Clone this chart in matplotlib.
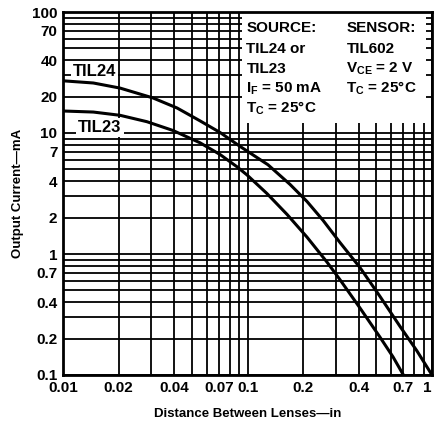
import numpy as np
import matplotlib
matplotlib.use('Agg')
from matplotlib import pyplot as plt
from matplotlib.patches import Rectangle
from matplotlib.ticker import LogLocator, NullFormatter, FixedLocator, FixedFormatter

plt.rcParams['font.family'] = ['Liberation Sans', 'DejaVu Sans']
plt.rcParams['font.weight'] = 'bold'
plt.rcParams['mathtext.fontset'] = 'custom'
plt.rcParams['mathtext.rm'] = 'Liberation Sans:bold'
plt.rcParams['mathtext.it'] = 'Liberation Sans:bold'
plt.rcParams['mathtext.bf'] = 'Liberation Sans:bold'

# curvas (distancia en pulgadas, corriente en mA)
til24_x = [0.01, 0.0146, 0.0204, 0.0307, 0.0415, 0.0553, 0.071, 0.091, 0.129,
           0.17, 0.21, 0.2565, 0.317, 0.407, 0.523, 0.671, 0.829, 1.0]
til24_y = [27.0, 25.9, 23.5, 19.5, 16.1, 12.6, 10.1, 7.76, 5.47,
           3.76, 2.72, 1.90, 1.245, 0.773, 0.445, 0.252, 0.158, 0.1]

til23_x = [0.01, 0.0146, 0.0204, 0.0285, 0.0394, 0.0553, 0.071, 0.0877, 0.0994,
           0.1275, 0.164, 0.21, 0.27, 0.317, 0.407, 0.523, 0.615, 0.70]
til23_y = [15.2, 14.9, 14.0, 12.4, 10.5, 8.3, 6.64, 5.26, 4.50,
           3.16, 2.12, 1.38, 0.855, 0.614, 0.358, 0.205, 0.141, 0.1]

xticks = [0.01, 0.02, 0.04, 0.07, 0.1, 0.2, 0.4, 0.7, 1]
xtick_labels = ['0.01', '0.02', '0.04', '0.07', '0.1', '0.2', '0.4', '0.7', '1']
yticks = [0.1, 0.2, 0.4, 0.7, 1, 2, 4, 7, 10, 20, 40, 70, 100]
ytick_labels = ['0.1', '0.2', '0.4', '0.7', '1', '2', '4', '7', '10', '20', '40', '70', '100']

source_lines = ['SOURCE:', 'TIL24 or', 'TIL23', 'I$_{F}$ = 50 mA', 'T$_{C}$ = 25°C']
sensor_lines = ['SENSOR:', 'TIL602', 'V$_{CE}$ = 2 V', 'T$_{C}$ = 25°C']

fig = plt.figure(figsize=(4.34, 4.29), dpi=100)
ax = fig.add_axes([63/434, 54/429, 369/434, 363/429])
ax.set_xscale('log')
ax.set_yscale('log')
ax.set_xlim(0.01, 1)
ax.set_ylim(0.1, 100)

ax.plot(til24_x, til24_y, color='black', lw=2.2, zorder=4, solid_joinstyle='round')
ax.plot(til23_x, til23_y, color='black', lw=2.2, zorder=4, solid_joinstyle='round')

ax.xaxis.set_major_locator(FixedLocator(xticks))
ax.xaxis.set_major_formatter(FixedFormatter(xtick_labels))
ax.yaxis.set_major_locator(FixedLocator(yticks))
ax.yaxis.set_major_formatter(FixedFormatter(ytick_labels))
ax.xaxis.set_minor_locator(LogLocator(base=10, subs=np.arange(1, 10)))
ax.yaxis.set_minor_locator(LogLocator(base=10, subs=np.arange(1, 10)))
ax.xaxis.set_minor_formatter(NullFormatter())
ax.yaxis.set_minor_formatter(NullFormatter())
ax.tick_params(which='both', length=0, labelsize=11, pad=4)
ax.set_axisbelow(True)
ax.grid(which='both', color='black', lw=1.3)
for s in ax.spines.values():
    s.set_linewidth(2)

# el "1" del final queda dentro de la figura
ax.xaxis.get_majorticklabels()[-1].set_horizontalalignment('right')

ax.set_xlabel('Distance Between Lenses\u2014in', fontsize=9.5, fontweight='bold', labelpad=10)
ax.set_ylabel('Output Current\u2014mA', fontsize=9.5, fontweight='bold', labelpad=6)

# recuadro blanco con las condiciones
ax.add_patch(Rectangle((0.485, 0.694), 0.5, 0.306, transform=ax.transAxes,
                       facecolor='white', edgecolor='none', zorder=2))
ys = [0.956, 0.898, 0.844, 0.789, 0.734]
for t, y in zip(source_lines, ys):
    ax.text(0.497, y, t, transform=ax.transAxes, fontsize=11, fontweight='bold',
            ha='left', va='center', zorder=3)
for t, y in zip(sensor_lines, ys):
    ax.text(0.768, y, t, transform=ax.transAxes, fontsize=11, fontweight='bold',
            ha='left', va='center', zorder=3)

box = dict(facecolor='white', edgecolor='none', pad=1.5)
ax.text(0.0113, 32, 'TIL24', fontsize=12, fontweight='bold', ha='left', va='center',
        bbox=box, zorder=3)
ax.text(0.0121, 11.0, 'TIL23', fontsize=12, fontweight='bold', ha='left', va='center',
        bbox=box, zorder=3)

plt.savefig('out.png', dpi=100)
